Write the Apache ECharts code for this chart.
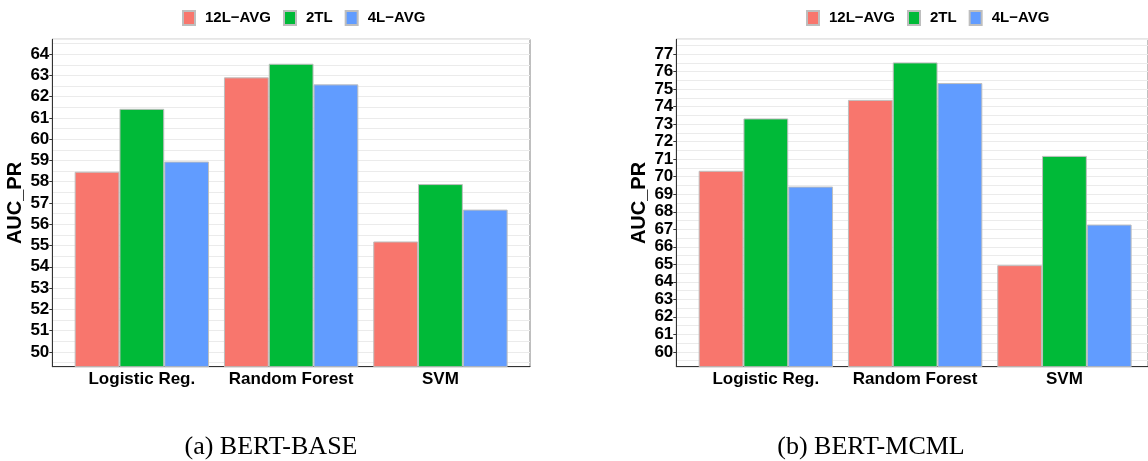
<!DOCTYPE html>
<html>
<head>
<meta charset="utf-8">
<script src="https://cdn.jsdelivr.net/npm/echarts@6/dist/echarts.min.js"></script>
<style>
html,body{margin:0;padding:0;background:#fff;}
#chart{width:1148px;height:461px;}
</style>
</head>
<body>
<div id="chart"></div>
<script>
const categories = ['Logistic Reg.', 'Random Forest', 'SVM'];
const seriesNames = ['12L\u2212AVG', '2TL', '4L\u2212AVG'];
const colors = ['#F8766D', '#00BA38', '#619CFF'];
const captions = ['(a) BERT-BASE', '(b) BERT-MCML'];

const baseL12 = [58.47, 62.91, 55.19];
const base2TL = [61.43, 63.55, 57.89];
const baseL4  = [58.95, 62.58, 56.69];

const mcmlL12 = [70.34, 74.39, 64.95];
const mcml2TL = [73.33, 76.53, 71.19];
const mcmlL4  = [69.44, 75.35, 67.27];

const baseRange = [49.3, 64.7];
const mcmlRange = [59.15, 77.85];

const panels = [
  {data: [baseL12, base2TL, baseL4], range: baseRange, left: 52.3, legendLeft: 177, captionX: 271},
  {data: [mcmlL12, mcml2TL, mcmlL4], range: mcmlRange, left: 676.3, legendLeft: 801, captionX: 871}
];

const TOP = 39.3, H = 327.4, W = 477.7, INSET = 14.9;
const FONT = '"Liberation Sans", Arial, sans-serif';

const grid = [], xAxis = [], yAxis = [], series = [], legend = [], graphic = [];

panels.forEach((p, pi) => {
  const g0 = grid.length;
  grid.push({left: p.left, top: TOP, width: W, height: H, show: true, borderColor: '#808080', borderWidth: 1, backgroundColor: 'transparent'});
  grid.push({left: p.left + INSET, top: TOP, width: W - 2 * INSET, height: H});
  const span = p.range[1] - p.range[0];
  xAxis.push({type: 'value', gridIndex: g0, min: 0, max: 1, axisLine: {show: true, onZero: false, lineStyle: {color: '#333', width: 1}}, axisTick: {show: false}, axisLabel: {show: false}, splitLine: {show: false}});
  xAxis.push({type: 'category', gridIndex: g0 + 1, data: categories, axisLine: {show: false}, axisTick: {show: false},
    axisLabel: {interval: 0, color: '#000', fontFamily: FONT, fontWeight: 'bold', fontSize: 17, margin: 4}});
  const ya = yAxis.length;
  yAxis.push({type: 'value', gridIndex: g0, min: p.range[0], max: p.range[1], splitNumber: Math.floor(span), position: 'left',
    name: 'AUC_PR', nameLocation: 'middle', nameGap: 27, nameRotate: 90,
    nameTextStyle: {color: '#000', fontFamily: FONT, fontWeight: 'bold', fontSize: 20},
    axisLine: {show: true, lineStyle: {color: '#333', width: 1}},
    axisTick: {show: true, length: 3, lineStyle: {color: '#333'}},
    axisLabel: {color: '#000', fontFamily: FONT, fontWeight: 'bold', fontSize: 17, margin: 3,
      showMinLabel: false, showMaxLabel: false,
      formatter: v => Math.abs(v - Math.round(v)) < 1e-6 ? String(Math.round(v)) : ''},
    splitLine: {show: false}});
  yAxis.push({type: 'value', gridIndex: g0, min: p.range[0], max: p.range[1], splitNumber: Math.round(span * 2), position: 'left',
    axisLine: {show: false}, axisTick: {show: false}, axisLabel: {show: false},
    splitLine: {show: true, lineStyle: {color: '#ebebeb', width: 1}}});
  yAxis.push({type: 'value', gridIndex: g0 + 1, min: p.range[0], max: p.range[1], show: false});

  seriesNames.forEach((name, si) => {
    series.push({type: 'bar', name: name, xAxisIndex: pi * 2 + 1, yAxisIndex: ya + 2, data: p.data[si],
      barGap: 0, barCategoryGap: '10%',
      itemStyle: {color: colors[si], borderColor: '#bebebe', borderWidth: 1},
      emphasis: {disabled: true}});
  });

  legend.push({left: p.legendLeft, top: 5, itemWidth: 12, itemHeight: 14, itemGap: 12, icon: 'rect',
    data: seriesNames, selectedMode: false,
    textStyle: {color: '#000', fontFamily: FONT, fontWeight: 'bold', fontSize: 15, padding: [0, 0, 0, 5]}});

  graphic.push({type: 'text', x: p.captionX, y: 447,
    style: {text: captions[pi], textAlign: 'center', textVerticalAlign: 'middle', fill: '#000',
      font: '26px "Liberation Serif", "Times New Roman", serif'}});
});

const chart = echarts.init(document.getElementById('chart'), null, {renderer: 'canvas'});
chart.setOption({
  animation: false,
  backgroundColor: '#fff',
  color: colors,
  grid, xAxis, yAxis, series, legend, graphic
});
</script>
</body>
</html>
